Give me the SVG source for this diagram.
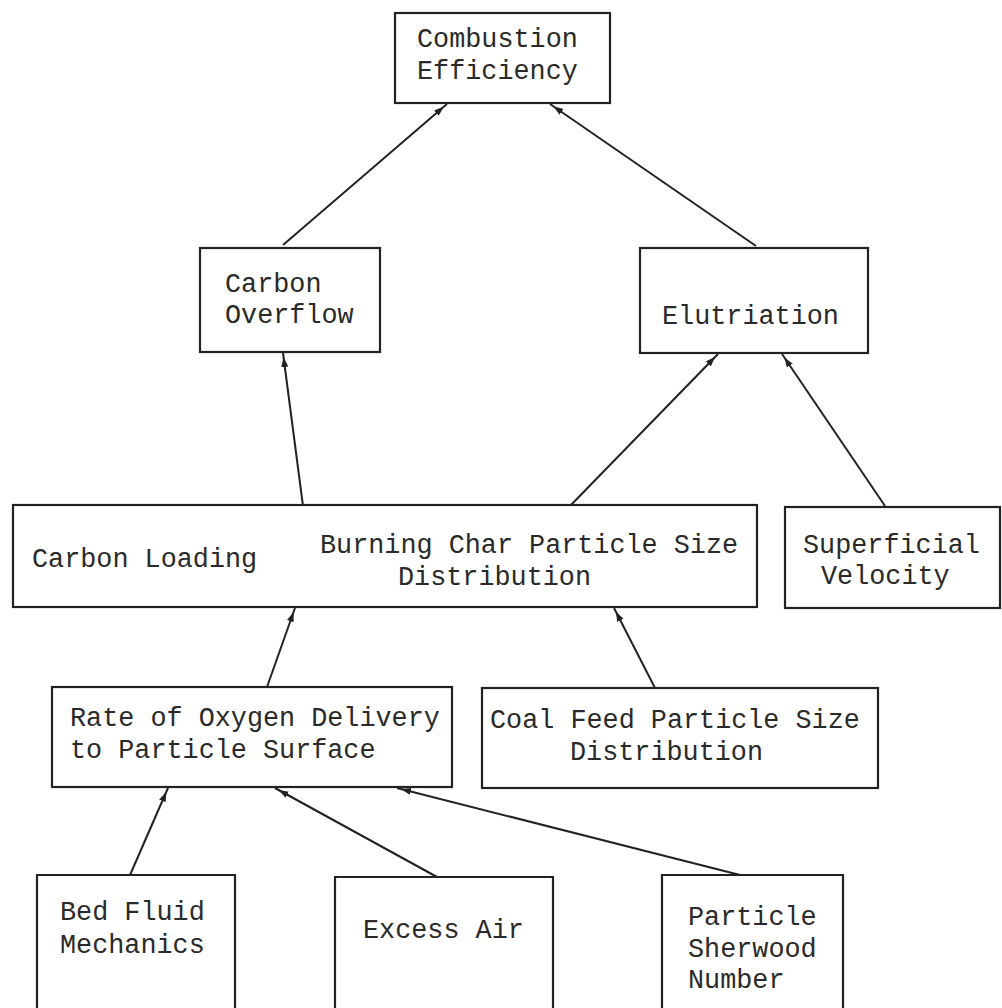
<svg xmlns="http://www.w3.org/2000/svg" width="1002" height="1008" viewBox="0 0 1002 1008">
<defs>
<style>
.box{fill:#fff;stroke:#222;stroke-width:2.2}
.t{font-family:"Liberation Mono","Courier New",monospace;font-size:26.8px;fill:#2a2a2a}
.c{stroke:#222;stroke-width:2;fill:none;marker-end:url(#ah)}
</style>
<marker id="ah" viewBox="0 0 10 10" refX="14" refY="5" markerWidth="10" markerHeight="10" markerUnits="userSpaceOnUse" orient="auto">
<path d="M0,1.5 L10,5 L0,8.5 Z" fill="#222"/>
</marker>
</defs>
<rect width="1002" height="1008" fill="#fff"/>
<g id="connectors">
<line class="c" x1="283" y1="245" x2="447" y2="104"/>
<line class="c" x1="756" y1="246" x2="550" y2="104"/>
<line class="c" x1="303" y1="506" x2="283" y2="353"/>
<line class="c" x1="570" y1="506" x2="718" y2="354"/>
<line class="c" x1="885" y1="506" x2="782" y2="354"/>
<line class="c" x1="267" y1="687" x2="295" y2="608"/>
<line class="c" x1="655" y1="688" x2="614" y2="608"/>
<line class="c" x1="130" y1="875" x2="168" y2="788"/>
<line class="c" x1="437" y1="877" x2="275" y2="788"/>
<line class="c" x1="740" y1="875" x2="397" y2="788"/>
</g>
<g id="combustion-efficiency">
<rect class="box" x="395" y="13" width="215" height="90"/>
<text class="t" x="417" y="47">Combustion</text>
<text class="t" x="417" y="79">Efficiency</text>
</g>
<g id="carbon-overflow">
<rect class="box" x="200" y="248" width="180" height="104"/>
<text class="t" x="225" y="292">Carbon</text>
<text class="t" x="225" y="323">Overflow</text>
</g>
<g id="elutriation">
<rect class="box" x="640" y="248" width="228" height="105"/>
<text class="t" x="662" y="324">Elutriation</text>
</g>
<g id="carbon-loading-burning-char">
<rect class="box" x="13" y="505" width="744" height="102"/>
<text class="t" x="32" y="567">Carbon Loading</text>
<text class="t" x="320" y="553">Burning Char Particle Size</text>
<text class="t" x="398" y="585">Distribution</text>
</g>
<g id="superficial-velocity">
<rect class="box" x="785" y="507" width="215" height="101"/>
<text class="t" x="803" y="553">Superficial</text>
<text class="t" x="821" y="584">Velocity</text>
</g>
<g id="rate-oxygen-delivery">
<rect class="box" x="52" y="687" width="400" height="100"/>
<text class="t" x="70" y="726">Rate of Oxygen Delivery</text>
<text class="t" x="70" y="758">to Particle Surface</text>
</g>
<g id="coal-feed-psd">
<rect class="box" x="482" y="688" width="396" height="100"/>
<text class="t" x="490" y="728">Coal Feed Particle Size</text>
<text class="t" x="570" y="760">Distribution</text>
</g>
<g id="bed-fluid-mechanics">
<path class="box" d="M37,1010 V875 H235 V1010"/>
<text class="t" x="60" y="920">Bed Fluid</text>
<text class="t" x="60" y="953">Mechanics</text>
</g>
<g id="excess-air">
<path class="box" d="M335,1010 V877 H553 V1010"/>
<text class="t" x="363" y="938">Excess Air</text>
</g>
<g id="particle-sherwood-number">
<path class="box" d="M662,1010 V875 H843 V1010"/>
<text class="t" x="688" y="925">Particle</text>
<text class="t" x="688" y="957">Sherwood</text>
<text class="t" x="688" y="988">Number</text>
</g>
</svg>
